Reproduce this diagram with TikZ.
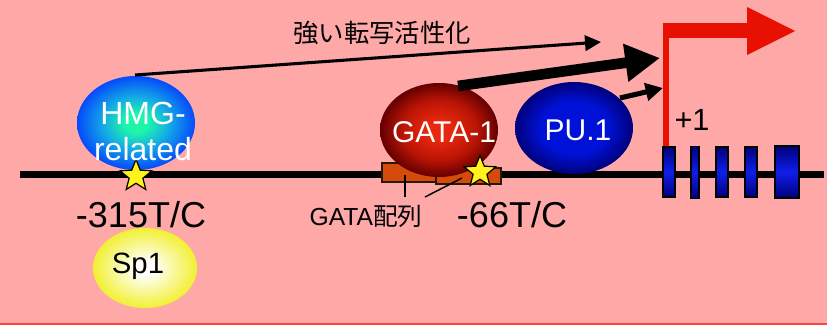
\documentclass[tikz,border=0pt]{standalone}
\usepackage{fontspec}
\setmainfont{Liberation Sans}
\newfontfamily\jp{Noto Sans CJK JP}
\usetikzlibrary{shapes.geometric,arrows.meta}
\definecolor{bg}{RGB}{255,168,168}
\definecolor{tssred}{RGB}{232,16,0}
\definecolor{gorange}{RGB}{215,75,10}
\definecolor{hmgin}{RGB}{30,245,170}
\definecolor{hmgmid}{RGB}{20,170,230}
\definecolor{hmgout}{RGB}{5,75,250}
\definecolor{gatain}{RGB}{232,40,14}
\definecolor{gatamid}{RGB}{185,20,5}
\definecolor{gataout}{RGB}{100,0,0}
\definecolor{puin}{RGB}{0,18,215}
\definecolor{puout}{RGB}{0,0,125}
\definecolor{spout}{RGB}{242,240,50}
\definecolor{exbright}{RGB}{16,30,235}
\definecolor{exdark}{RGB}{0,0,120}
\pgfdeclareradialshading{hmgshade}{\pgfpoint{0bp}{0bp}}{color(0bp)=(hmgin); color(5bp)=(hmgin); color(14bp)=(hmgmid); color(25bp)=(hmgout); color(50bp)=(hmgout)}
\pgfdeclareradialshading{gatashade}{\pgfpoint{0bp}{0bp}}{color(0bp)=(gatain); color(5bp)=(gatain); color(16bp)=(gatamid); color(25bp)=(gataout); color(50bp)=(gataout)}
\pgfdeclareradialshading{pushade}{\pgfpoint{0bp}{0bp}}{color(0bp)=(puin); color(14bp)=(puin); color(25bp)=(puout); color(50bp)=(puout)}
\pgfdeclareradialshading{spshade}{\pgfpoint{0bp}{0bp}}{color(0bp)=(white); color(4bp)=(white); color(25bp)=(spout); color(50bp)=(spout)}
\tikzset{
  blob/.style={ellipse, inner sep=0pt},
  gbox/.style={draw=black!80!brown, line width=0.9pt, fill=gorange, inner sep=0pt},
  snp/.style={star, star points=5, star point ratio=2.3, minimum size=25pt, inner sep=0pt, fill=yellow!90!white, draw=black, line width=0.9pt},
  exon/.style={draw=black, line width=1.1pt, inner sep=0pt, top color=exdark, bottom color=exdark, middle color=exbright},
  wlabel/.style={text=white, inner sep=0pt},
  blabel/.style={text=black, inner sep=0pt, anchor=base},
}
\begin{document}
\begin{tikzpicture}[x=0.75pt,y=-0.75pt]
\fill[bg] (0,0) rectangle (827,325);
\useasboundingbox (0,0) rectangle (827,325);
\draw[red!60!bg, line width=0.8pt] (0,324) -- (827,324);
% main DNA line
\coordinate (L0) at (20,174);
\coordinate (L1) at (824,174);
\draw[line width=5.25pt] (L0) -- (L1);
% GATA boxes
\node[gbox, minimum width=43.5pt, minimum height=14.25pt] (box1) at (411,172.5) {};
\node[gbox, minimum width=48.75pt, minimum height=12pt] (box2) at (468.5,176) {};
% label lines
\coordinate (lbl1a) at (405,175);
\coordinate (lbl1b) at (405,197);
\coordinate (lbl2a) at (462,178);
\coordinate (lbl2b) at (425,197);
\draw[line width=1.3pt] (lbl1a) -- (lbl1b);
\draw[line width=1.1pt] (lbl2a) -- (lbl2b);
% factors
\node[blob, minimum width=88.5pt, minimum height=70.5pt, shading=hmgshade] (hmg) at (136,123) {};
\node[blob, minimum width=88.5pt, minimum height=70.5pt, shading=gatashade] (gata) at (439,130) {};
\node[blob, minimum width=88.5pt, minimum height=69pt, shading=pushade] (pu) at (574,128) {};
\node[blob, minimum width=78pt, minimum height=60pt, shading=spshade] (sp) at (145,268) {};
% stars
\node[snp] (s1) at (136,176) {};
\node[snp] (s2) at (480,172) {};
% activation arrows
\coordinate (a1s) at (135,75);
\coordinate (a1e) at (601,42);
\draw[line width=2.3pt, -{Triangle[length=12pt,width=11.5pt]}] (a1s) -- (a1e);
\coordinate (a2s) at (458,86);
\coordinate (a2e) at (660,58);
\draw[line width=8pt, -{Triangle[length=26pt,width=27pt]}] (a2s) -- (a2e);
\coordinate (a3s) at (620,98);
\coordinate (a3e) at (663,88);
\draw[line width=3.8pt, -{Triangle[length=13pt,width=13pt]}] (a3s) -- (a3e);
% TSS arrow
\coordinate (t3) at (795,31);
\fill[tssred] (662.5,172) rectangle (668.5,23);
\fill[tssred] (662.5,23) rectangle (749,38);
\fill[tssred] (747,7) -- (t3) -- (747,55) -- cycle;
% exons
\node[exon, minimum width=9pt, minimum height=37.5pt] (e1) at (669,172) {};
\node[exon, minimum width=6pt, minimum height=39pt] (e2) at (695,172.5) {};
\node[exon, minimum width=9pt, minimum height=37.5pt] (e3) at (722,172) {};
\node[exon, minimum width=9pt, minimum height=37.5pt] (e4) at (751,172) {};
\node[exon, minimum width=18pt, minimum height=39pt] (e5) at (787,172) {};
% texts
\node[inner sep=0pt, font=\jp\fontsize{19}{22}\selectfont] (tact) at (382,33) {強い転写活性化};
\node[wlabel, align=center, font=\fontsize{24}{27}\selectfont] (thmg) at (143,131) {HMG-\\related};
\node[wlabel, font=\fontsize{22.5}{26}\selectfont] (tgata) at (444,132) {GATA-1};
\node[wlabel, font=\fontsize{22.5}{26}\selectfont] (tpu) at (578,130) {PU.1};
\node[blabel, font=\fontsize{27}{30}\selectfont] (t315) at (141,227) {-315T/C};
\node[blabel, font=\fontsize{27}{30}\selectfont] (t66) at (512,227) {-66T/C};
\node[blabel, font=\fontsize{18.5}{22}\selectfont] (tgs) at (366,225) {GATA{\jp 配列}};
\node[blabel, font=\fontsize{23}{26}\selectfont] (tp1) at (692,130) {+1};
\node[blabel, font=\fontsize{22}{26}\selectfont] (tsp) at (138,273) {Sp1};
\end{tikzpicture}
\end{document}
